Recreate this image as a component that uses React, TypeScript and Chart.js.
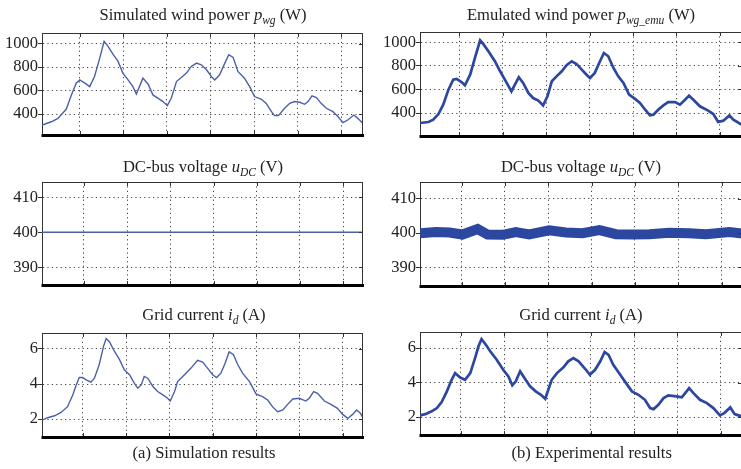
import React, { useEffect, useRef } from 'react';
import { Chart, registerables } from 'chart.js';

Chart.register(...registerables);

// ---------- data (x in grid divisions, grid lines at 1..7) ----------
const gridTicks = [1, 2, 3, 4, 5, 6, 7];
const powerTicks = [400, 600, 800, 1000];
const voltTicks = [390, 400, 410];
const currentTicks = [2, 4, 6];

const simPowerT = [0.14, 0.35, 0.5, 0.69, 0.81, 0.92, 1.0, 1.12, 1.23, 1.34, 1.46, 1.56, 1.65, 1.77, 1.88, 1.99, 2.11, 2.22, 2.3, 2.45, 2.57, 2.68, 2.8, 2.91, 3.01, 3.1, 3.22, 3.33, 3.45, 3.56, 3.68, 3.79, 3.91, 4.02, 4.1, 4.21, 4.33, 4.42, 4.52, 4.63, 4.78, 4.9, 5.01, 5.17, 5.28, 5.4, 5.47, 5.56, 5.7, 5.82, 5.93, 6.05, 6.16, 6.24, 6.33, 6.43, 6.54, 6.66, 6.81, 6.93, 7.04, 7.15, 7.29, 7.38, 7.5];
const simPowerW = [306, 334, 363, 440, 563, 663, 691, 663, 634, 720, 877, 1020, 977, 906, 849, 749, 691, 634, 571, 706, 654, 563, 534, 506, 471, 534, 677, 711, 749, 806, 834, 820, 777, 720, 691, 734, 834, 906, 883, 763, 706, 634, 549, 526, 491, 420, 386, 386, 449, 491, 506, 500, 483, 506, 554, 540, 491, 449, 420, 377, 326, 349, 391, 363, 320];

const simVoltT = [0, 7.5];
const simVoltV = [400, 400];

const simCurrentT = [0.06, 0.19, 0.35, 0.5, 0.65, 0.77, 0.85, 0.92, 1.0, 1.08, 1.19, 1.27, 1.38, 1.48, 1.54, 1.62, 1.73, 1.85, 1.96, 2.08, 2.19, 2.27, 2.35, 2.42, 2.5, 2.62, 2.73, 2.85, 2.96, 3.02, 3.12, 3.19, 3.35, 3.5, 3.65, 3.77, 3.88, 4.0, 4.09, 4.19, 4.28, 4.38, 4.48, 4.58, 4.69, 4.85, 5.0, 5.15, 5.27, 5.38, 5.5, 5.62, 5.73, 5.85, 6.0, 6.15, 6.23, 6.33, 6.42, 6.58, 6.73, 6.88, 7.0, 7.12, 7.23, 7.32, 7.41, 7.48];
const simCurrentA = [1.94, 2.08, 2.19, 2.38, 2.71, 3.38, 3.95, 4.37, 4.37, 4.24, 4.11, 4.33, 5.1, 6.15, 6.59, 6.4, 5.87, 5.39, 4.81, 4.53, 4.05, 3.76, 3.95, 4.43, 4.33, 3.86, 3.57, 3.38, 3.19, 3.03, 3.57, 4.14, 4.53, 4.91, 5.35, 5.25, 4.91, 4.53, 4.37, 4.62, 5.14, 5.83, 5.67, 5.1, 4.62, 4.14, 3.44, 3.28, 3.09, 2.71, 2.42, 2.52, 2.84, 3.15, 3.19, 3.03, 3.19, 3.57, 3.47, 3.03, 2.84, 2.61, 2.27, 2.04, 2.27, 2.52, 2.33, 2.04];

const expPowerT = [0.09, 0.29, 0.4, 0.52, 0.63, 0.75, 0.86, 0.94, 1.05, 1.13, 1.25, 1.36, 1.48, 1.55, 1.67, 1.82, 1.94, 2.05, 2.2, 2.28, 2.37, 2.47, 2.59, 2.7, 2.82, 2.93, 3.03, 3.13, 3.24, 3.36, 3.47, 3.59, 3.7, 3.82, 3.93, 4.01, 4.12, 4.24, 4.33, 4.43, 4.55, 4.66, 4.78, 4.91, 5.04, 5.16, 5.28, 5.39, 5.47, 5.58, 5.7, 5.81, 5.97, 6.08, 6.2, 6.29, 6.39, 6.54, 6.73, 6.85, 6.96, 7.08, 7.22, 7.31, 7.5];
const expPowerW = [315, 324, 343, 391, 471, 598, 683, 689, 663, 635, 725, 867, 1017, 986, 924, 839, 754, 683, 584, 641, 703, 655, 570, 527, 505, 465, 541, 669, 711, 754, 805, 839, 816, 768, 725, 697, 740, 839, 909, 881, 782, 711, 655, 556, 522, 485, 428, 380, 386, 428, 465, 493, 493, 471, 513, 547, 513, 457, 420, 391, 324, 335, 380, 343, 301];

const expVoltT = [0.04, 0.41, 0.72, 1.02, 1.37, 1.6, 1.95, 2.25, 2.56, 3.02, 3.41, 3.79, 4.18, 4.56, 4.95, 5.33, 5.79, 6.25, 6.64, 7.18, 7.48];
const expVoltV = [400.0, 400.3, 400.2, 399.6, 401.2, 399.6, 399.5, 400.3, 399.6, 400.8, 400.2, 400.0, 400.9, 399.7, 399.6, 399.7, 400.1, 400.0, 399.7, 400.3, 399.9];

const expCurrentT = [0.06, 0.18, 0.33, 0.45, 0.56, 0.68, 0.79, 0.87, 0.98, 1.1, 1.22, 1.33, 1.41, 1.48, 1.58, 1.68, 1.83, 1.98, 2.1, 2.19, 2.27, 2.37, 2.47, 2.6, 2.73, 2.85, 2.95, 3.02, 3.1, 3.22, 3.37, 3.48, 3.6, 3.72, 3.87, 3.98, 4.1, 4.22, 4.32, 4.41, 4.52, 4.68, 4.83, 4.95, 5.1, 5.25, 5.37, 5.45, 5.56, 5.68, 5.79, 5.98, 6.1, 6.18, 6.27, 6.37, 6.52, 6.68, 6.83, 6.98, 7.08, 7.22, 7.32, 7.48];
const expCurrentA = [2.1, 2.17, 2.33, 2.52, 2.87, 3.49, 4.16, 4.55, 4.3, 4.16, 4.55, 5.42, 6.1, 6.52, 6.19, 5.81, 5.32, 4.74, 4.36, 3.84, 4.07, 4.65, 4.26, 3.78, 3.49, 3.29, 3.06, 3.58, 4.16, 4.55, 4.88, 5.23, 5.42, 5.23, 4.8, 4.45, 4.74, 5.23, 5.77, 5.61, 5.03, 4.45, 3.91, 3.49, 3.29, 3.0, 2.52, 2.46, 2.71, 3.1, 3.26, 3.2, 3.14, 3.39, 3.68, 3.39, 3.0, 2.81, 2.52, 2.1, 2.23, 2.56, 2.17, 2.04];

// ---------- styling ----------
const FONT = '"Liberation Serif", "Times New Roman", Times, serif';
const SIM_COLOR = '#4d5fa9';
const EXP_COLOR = '#2b479f';
const GRID_COLOR = 'rgba(20,20,20,0.8)';
const GRID_DASH = [1.2, 3.2];
const TEXT_COLOR = '#222';
const PAD = 12;
const TICK_FONT = 16.5;
const TITLE_FONT = 16.6;

type Spec = {
  t: number[];
  v: number[];
  color: string;
  lw: number;
  xMin: number;
  xMax: number;
  yMin: number;
  yMax: number;
  yTicks: number[];
  canvasLeft: number;
  canvasWidth: number;
  left: number;
  right: number;
  top: number;
  bottom: number;
};

function makeBox(yTicks: number[]) {
  return {
    id: 'matlabBox',
    afterDraw(chart: any) {
      const { ctx, chartArea: a, scales } = chart;
      ctx.save();
      ctx.strokeStyle = '#333';
      ctx.lineWidth = 1;
      ctx.setLineDash([]);
      ctx.beginPath();
      ctx.moveTo(a.left, a.top + 0.5);
      ctx.lineTo(a.right, a.top + 0.5);
      ctx.moveTo(a.right - 0.5, a.top);
      ctx.lineTo(a.right - 0.5, a.bottom);
      for (const g of gridTicks) {
        const px = Math.round(scales.x.getPixelForValue(g)) + 0.5;
        ctx.moveTo(px, a.top);
        ctx.lineTo(px, a.top + 4);
        ctx.moveTo(px, a.bottom);
        ctx.lineTo(px, a.bottom - 4);
      }
      for (const yt of yTicks) {
        const py = Math.round(scales.y.getPixelForValue(yt)) + 0.5;
        ctx.moveTo(a.right, py);
        ctx.lineTo(a.right - 4, py);
      }
      ctx.stroke();
      ctx.strokeStyle = '#000';
      ctx.lineWidth = 3;
      ctx.beginPath();
      ctx.moveTo(a.left - 0.5, a.bottom + 0.5);
      ctx.lineTo(a.right + 1, a.bottom + 0.5);
      ctx.stroke();
      ctx.restore();
    },
  };
}

function Panel(p: Spec) {
  const ref = useRef<HTMLCanvasElement | null>(null);
  const height = p.bottom - p.top + 2 * PAD;
  useEffect(() => {
    const canvas = ref.current;
    if (!canvas) return;
    const chart = new Chart(canvas, {
      type: 'line',
      data: {
        datasets: [
          {
            data: p.t.map((t, i) => ({ x: t, y: p.v[i] })),
            borderColor: p.color,
            borderWidth: p.lw,
            pointRadius: 0,
            tension: 0,
            fill: false,
          },
        ],
      },
      options: {
        responsive: false,
        animation: false,
        devicePixelRatio: 1,
        events: [],
        layout: {
          padding: {
            left: 0,
            right: p.canvasLeft + p.canvasWidth - p.right,
            top: PAD,
            bottom: PAD,
          },
        },
        plugins: {
          legend: { display: false },
          tooltip: { enabled: false },
          title: { display: false },
        },
        scales: {
          x: {
            type: 'linear',
            min: p.xMin,
            max: p.xMax,
            afterBuildTicks: (s: any) => {
              s.ticks = gridTicks.map((v) => ({ value: v }));
            },
            ticks: { display: false },
            grid: { color: GRID_COLOR, lineWidth: 1, drawTicks: false },
            border: { display: false, dash: GRID_DASH },
          },
          y: {
            type: 'linear',
            min: p.yMin,
            max: p.yMax,
            afterBuildTicks: (s: any) => {
              s.ticks = p.yTicks.map((v) => ({ value: v }));
            },
            afterFit: (s: any) => {
              s.width = p.left - p.canvasLeft;
            },
            ticks: {
              font: { family: FONT, size: TICK_FONT },
              color: TEXT_COLOR,
              padding: 0,
              callback: (v: any) => String(v),
            },
            grid: {
              color: GRID_COLOR,
              lineWidth: 1,
              drawTicks: true,
              tickLength: 4,
              tickColor: '#333',
              tickWidth: 1,
              tickBorderDash: [],
            },
            border: { display: true, color: '#333', width: 1, dash: GRID_DASH },
          },
        },
      } as any,
      plugins: [makeBox(p.yTicks)],
    });
    return () => chart.destroy();
  }, []);
  return (
    <canvas
      ref={ref}
      width={p.canvasWidth}
      height={height}
      style={{
        position: 'absolute',
        left: p.canvasLeft,
        top: p.top - PAD,
        width: p.canvasWidth,
        height,
      }}
    />
  );
}

const subStyle: React.CSSProperties = {
  fontSize: 11.5,
  fontStyle: 'italic',
  position: 'relative',
  top: 4,
};

function Label(props: { cx: number; baseline: number; children: React.ReactNode }) {
  return (
    <div
      style={{
        position: 'absolute',
        left: props.cx - 200,
        width: 400,
        top: props.baseline - 13.9,
        textAlign: 'center',
        fontFamily: FONT,
        fontSize: TITLE_FONT,
        lineHeight: '16.6px',
        color: TEXT_COLOR,
        whiteSpace: 'nowrap',
        zIndex: 2,
      }}
    >
      {props.children}
    </div>
  );
}

const L = { canvasLeft: 0, canvasWidth: 372, left: 42, right: 363 };
const R = { canvasLeft: 378, canvasWidth: 366, left: 420, right: 742 };

export default function App() {
  return (
    <div
      style={{
        position: 'absolute',
        left: 0,
        top: 0,
        width: 741,
        height: 469,
        overflow: 'hidden',
        background: '#fff',
      }}
    >
      <Panel {...L} top={33} bottom={135} t={simPowerT} v={simPowerW} color={SIM_COLOR} lw={1.4}
        xMin={0.135} xMax={7.5} yMin={221} yMax={1091} yTicks={powerTicks} />
      <Panel {...L} top={182} bottom={285} t={simVoltT} v={simVoltV} color={SIM_COLOR} lw={1.4}
        xMin={0.03} xMax={7.46} yMin={384.9} yMax={414.4} yTicks={voltTicks} />
      <Panel {...L} top={333} bottom={437} t={simCurrentT} v={simCurrentA} color={SIM_COLOR} lw={1.4}
        xMin={0.06} xMax={7.47} yMin={0.98} yMax={6.91} yTicks={currentTicks} />

      <Panel {...R} top={32} bottom={136} t={expPowerT} v={expPowerW} color={EXP_COLOR} lw={2.7}
        xMin={0.095} xMax={7.51} yMin={205} yMax={1087} yTicks={powerTicks} />
      <Panel {...R} top={182} bottom={286} t={expVoltT} v={expVoltV} color={EXP_COLOR} lw={10}
        xMin={0.04} xMax={7.47} yMin={384.6} yMax={414.9} yTicks={voltTicks} />
      <Panel {...R} top={332} bottom={435} t={expCurrentT} v={expCurrentA} color={EXP_COLOR} lw={2.7}
        xMin={0.06} xMax={7.49} yMin={0.96} yMax={6.93} yTicks={currentTicks} />

      <Label cx={203} baseline={20.7}>
        Simulated wind power <i>p</i><span style={subStyle}>wg</span> (W)
      </Label>
      <Label cx={581} baseline={20.7}>
        Emulated wind power <i>p</i><span style={subStyle}>wg_emu</span> (W)
      </Label>
      <Label cx={203} baseline={172.5}>
        DC-bus voltage <i>u</i><span style={subStyle}>DC</span> (V)
      </Label>
      <Label cx={581} baseline={173}>
        DC-bus voltage <i>u</i><span style={subStyle}>DC</span> (V)
      </Label>
      <Label cx={204} baseline={320.7}>
        Grid current <i>i</i><span style={subStyle}>d</span> (A)
      </Label>
      <Label cx={581} baseline={321}>
        Grid current <i>i</i><span style={subStyle}>d</span> (A)
      </Label>
      <Label cx={204} baseline={459.3}>
        (a) Simulation results
      </Label>
      <Label cx={591.7} baseline={459.3}>
        (b) Experimental results
      </Label>
    </div>
  );
}
